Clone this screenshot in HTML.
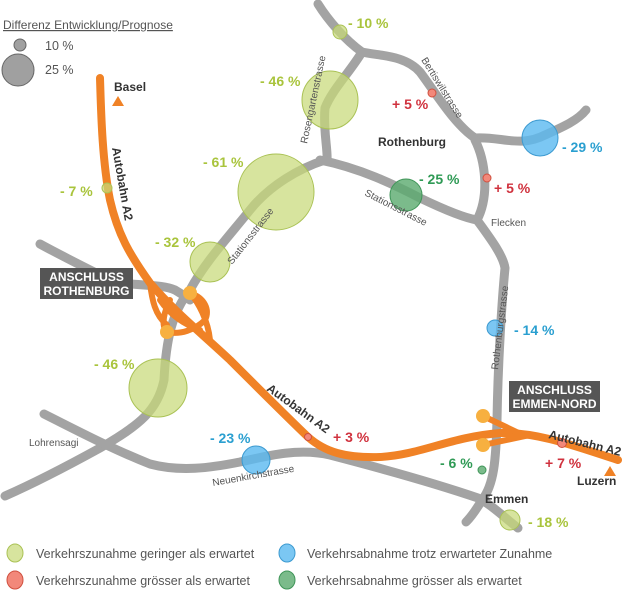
<!DOCTYPE html>
<html><head><meta charset="utf-8"><style>
html,body{margin:0;padding:0;background:#fff;}
svg{display:block;font-family:"Liberation Sans",sans-serif;}
.r{fill:none;stroke:#a3a3a3;stroke-width:9;stroke-linecap:round;stroke-linejoin:round;}
.o{fill:none;stroke:#f08226;stroke-width:8;stroke-linecap:round;stroke-linejoin:round;}
.o2{fill:none;stroke:#f08226;stroke-width:6;stroke-linecap:round;}
.lg{fill:rgba(200,218,120,0.72);stroke:#aac255;stroke-width:1;}
.bl{fill:rgba(90,185,240,0.8);stroke:#3c9ad0;stroke-width:1;}
.dg{fill:rgba(90,170,110,0.8);stroke:#3f9558;stroke-width:1;}
.rd{fill:#f2887a;stroke:#d0503f;stroke-width:1;}
.jn{fill:#f7b040;}
.pg{fill:#a9c43c;font-weight:bold;font-size:14px;}
.pb{fill:#2a9fd0;font-weight:bold;font-size:14px;}
.pd{fill:#2f9a55;font-weight:bold;font-size:14px;}
.pr{fill:#d0323e;font-weight:bold;font-size:14px;}
.st{fill:#555;font-size:10px;}
.bk{fill:#333;font-weight:bold;font-size:12px;}
.lt{fill:#555;font-size:12.5px;}
</style></head><body>
<svg width="630" height="590" viewBox="0 0 630 590">
<path class="r" d="M318,4 C328,20 345,40 362,52 C380,56 405,55 420,72 C435,92 455,125 475,138 C500,136 520,148 545,135 C565,126 578,120 586,110"/>
<path class="r" d="M362,52 C350,72 332,90 325,108 C323,130 328,150 327,160"/>
<path class="r" d="M320,160 C360,168 395,185 420,198 C445,210 465,218 477,220"/>
<path class="r" d="M475,140 C485,160 490,195 477,220 C490,238 503,255 505,268 C502,300 498,360 497,420 C496,460 494,485 482,500 C476,510 470,518 466,522"/>
<path class="r" d="M325,160 C300,168 270,185 250,210 C230,235 205,262 190,290 C172,312 166,340 164,380 C158,410 140,425 100,448 C60,470 30,485 5,496"/>
<path class="r" d="M40,244 C60,255 80,265 110,280 C130,287 160,283 175,290 C185,296 190,300 190,300"/>
<path class="r" d="M44,414 C80,432 110,448 150,464 C180,472 210,468 240,462 C270,455 300,448 330,455 C380,468 440,485 478,498 C492,505 505,518 518,528"/>
<ellipse class="lg" cx="330" cy="100" rx="28" ry="29"/>
<circle class="lg" cx="276" cy="192" r="38"/>
<circle class="lg" cx="210" cy="262" r="20"/>
<ellipse class="lg" cx="158" cy="388" rx="29" ry="29"/>
<circle class="lg" cx="340" cy="32" r="7"/>
<circle class="lg" cx="510" cy="520" r="10"/>
<circle class="bl" cx="540" cy="138" r="18"/>
<circle class="bl" cx="495" cy="328" r="8"/>
<circle class="bl" cx="256" cy="460" r="14"/>
<circle class="dg" cx="406" cy="195" r="16"/>
<path class="o" d="M100,78 C101,110 102,160 110,200 C118,235 130,255 150,283 C175,312 200,332 230,360 C260,390 285,415 308,437 C325,452 345,458 380,457 C420,455 450,437 500,433 C540,432 580,448 618,460"/>
<path class="o2" d="M150,283 C152,300 155,315 167,325 M170,300 C165,310 160,325 167,332 C180,335 195,330 205,320 C210,310 205,298 190,293 M190,293 C198,302 208,320 210,340 M160,300 C170,315 185,325 200,330"/>
<path class="o2" d="M483,416 L525,436 L483,445"/>
<circle class="jn" cx="190" cy="293" r="7"/>
<circle class="jn" cx="167" cy="332" r="7"/>
<circle class="jn" cx="483" cy="416" r="7"/>
<circle class="jn" cx="483" cy="445" r="7"/>
<circle class="lg" cx="107" cy="188" r="5"/>
<circle class="dg" cx="482" cy="470" r="4"/>
<circle class="rd" cx="432" cy="93" r="4"/>
<circle class="rd" cx="487" cy="178" r="4"/>
<circle class="rd" cx="308" cy="437" r="3.5"/>
<circle class="rd" cx="562" cy="443" r="4.5"/>
<polygon points="118,96 112,106 124,106" fill="#f08226"/>
<polygon points="610,466 604,476 616,476" fill="#f08226"/>
<rect x="40" y="268" width="93" height="31" fill="#555"/>
<text x="86.5" y="281" fill="#fff" font-weight="bold" font-size="12" text-anchor="middle">ANSCHLUSS</text>
<text x="86.5" y="295" fill="#fff" font-weight="bold" font-size="12" text-anchor="middle">ROTHENBURG</text>
<rect x="509" y="381" width="91" height="31" fill="#555"/>
<text x="554.5" y="394" fill="#fff" font-weight="bold" font-size="12" text-anchor="middle">ANSCHLUSS</text>
<text x="554.5" y="408" fill="#fff" font-weight="bold" font-size="12" text-anchor="middle">EMMEN-NORD</text>
<text x="3" y="29" font-size="12" fill="#555" text-decoration="underline">Differenz Entwicklung/Prognose</text>
<circle cx="20" cy="45" r="6" fill="#a0a0a0" stroke="#666"/>
<circle cx="18" cy="70" r="16" fill="#a0a0a0" stroke="#666"/>
<text x="45" y="50" class="lt">10 %</text>
<text x="45" y="74" class="lt">25 %</text>
<text x="114" y="91" class="bk">Basel</text>
<text x="378" y="146" class="bk">Rothenburg</text>
<text x="485" y="503" class="bk">Emmen</text>
<text x="577" y="485" class="bk">Luzern</text>
<text x="491" y="226" class="st" font-size="11">Flecken</text>
<text x="29" y="446" class="st" font-size="11">Lohrensagi</text>
<text class="bk" font-size="11" transform="translate(112,148) rotate(80)">Autobahn A2</text>
<text class="bk" font-size="10" transform="translate(266,390) rotate(36)">Autobahn A2</text>
<text class="bk" font-size="11" transform="translate(548,438) rotate(14)">Autobahn A2</text>
<text class="st" transform="translate(307,144) rotate(-78)">Rosengartenstrasse</text>
<text class="st" transform="translate(232,265) rotate(-52)">Stationsstrasse</text>
<text class="st" transform="translate(364,195) rotate(27)">Stationsstrasse</text>
<text class="st" transform="translate(421,60) rotate(58)">Bertiswilstrasse</text>
<text class="st" transform="translate(498,370) rotate(-83)">Rothenburgstrasse</text>
<text class="st" transform="translate(213,486) rotate(-10)">Neuenkirchstrasse</text>
<text x="348" y="28" class="pg">- 10 %</text>
<text x="260" y="86" class="pg">- 46 %</text>
<text x="203" y="167" class="pg">- 61 %</text>
<text x="155" y="247" class="pg">- 32 %</text>
<text x="60" y="196" class="pg">- 7 %</text>
<text x="94" y="369" class="pg">- 46 %</text>
<text x="528" y="527" class="pg">- 18 %</text>
<text x="419" y="184" class="pd">- 25 %</text>
<text x="440" y="468" class="pd">- 6 %</text>
<text x="562" y="152" class="pb">- 29 %</text>
<text x="514" y="335" class="pb">- 14 %</text>
<text x="210" y="443" class="pb">- 23 %</text>
<text x="392" y="109" class="pr">+ 5 %</text>
<text x="494" y="193" class="pr">+ 5 %</text>
<text x="333" y="442" class="pr">+ 3 %</text>
<text x="545" y="468" class="pr">+ 7 %</text>
<ellipse cx="15" cy="553" rx="8" ry="9" class="lg"/>
<ellipse cx="15" cy="580" rx="8" ry="9" class="rd"/>
<ellipse cx="287" cy="553" rx="8" ry="9" class="bl"/>
<ellipse cx="287" cy="580" rx="8" ry="9" class="dg"/>
<text x="36" y="558" class="lt">Verkehrszunahme geringer als erwartet</text>
<text x="36" y="585" class="lt">Verkehrszunahme grösser als erwartet</text>
<text x="307" y="558" class="lt">Verkehrsabnahme trotz erwarteter Zunahme</text>
<text x="307" y="585" class="lt">Verkehrsabnahme grösser als erwartet</text>
</svg>
</body></html>
